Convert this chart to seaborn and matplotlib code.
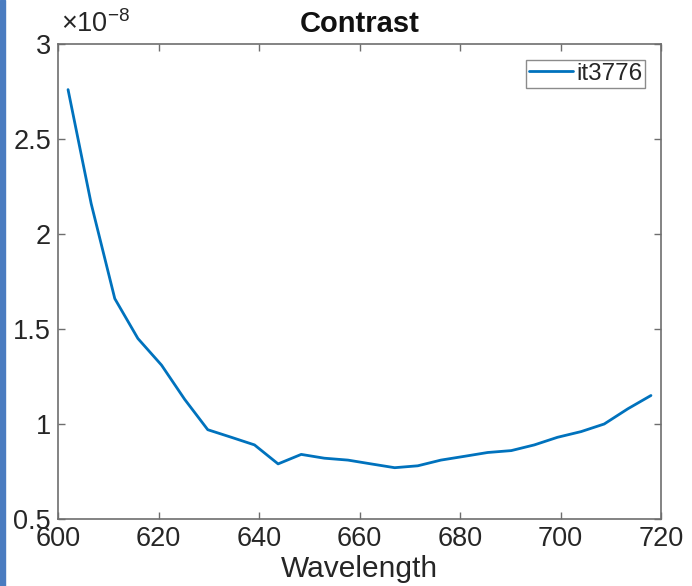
import matplotlib
matplotlib.use("Agg")
import matplotlib.pyplot as plt
import seaborn as sns
import pandas as pd
from matplotlib.patches import Rectangle
from matplotlib.ticker import ScalarFormatter

wavelength = [602.0, 606.6, 611.3, 615.9, 620.6, 625.2, 629.8, 634.5, 639.1,
              643.8, 648.4, 653.0, 657.7, 662.3, 667.0, 671.6, 676.2, 680.9,
              685.5, 690.2, 694.8, 699.4, 704.1, 708.7, 713.4, 718.0]
contrast_e8 = [2.76, 2.16, 1.66, 1.45, 1.31, 1.13, 0.97, 0.93, 0.89,
               0.79, 0.84, 0.82, 0.81, 0.79, 0.77, 0.78, 0.81, 0.83,
               0.85, 0.86, 0.89, 0.93, 0.96, 1.00, 1.08, 1.15]
series_name = "it3776"
x_ticks = [600, 620, 640, 660, 680, 700, 720]
y_ticks = [0.5, 1, 1.5, 2, 2.5, 3]

df = pd.DataFrame({"Wavelength": wavelength,
                   "Contrast": [v * 1e-8 for v in contrast_e8],
                   "series": series_name})

sns.set_style("ticks")
plt.rcParams["font.family"] = ["Liberation Sans", "DejaVu Sans"]
plt.rcParams["mathtext.fontset"] = "custom"
plt.rcParams["mathtext.rm"] = "Liberation Sans"
plt.rcParams["mathtext.it"] = "Liberation Sans"

fig = plt.figure(figsize=(6.92, 5.86), dpi=100)
ax = fig.add_axes([58 / 692, 1 - 519 / 586, 603 / 692, 475 / 586])

sns.lineplot(data=df, x="Wavelength", y="Contrast", hue="series",
             palette=["#0072BD"], linewidth=2.0, ax=ax)

ax.set_xlim(600, 720)
ax.set_ylim(0.5e-8, 3e-8)
ax.set_xticks(x_ticks)
ax.set_yticks([t * 1e-8 for t in y_ticks])
fmt = ScalarFormatter(useMathText=True)
fmt.set_powerlimits((0, 0))
ax.yaxis.set_major_formatter(fmt)
ax.set_yticklabels(["0.5", "1", "1.5", "2", "2.5", "3"])
ax.yaxis.get_offset_text().set_visible(False)

grey = "#6e6e6e"
for s in ax.spines.values():
    s.set_color(grey)
    s.set_linewidth(1.2)
    s.set_visible(True)
ax.tick_params(direction="in", length=5, width=1.0, color=grey,
               labelsize=19.5, labelcolor="#262626", top=True, right=True,
               pad=5)

ax.set_xlabel("Wavelength", fontsize=21.5, color="#262626", labelpad=2)
ax.set_ylabel("")
ax.set_title("Contrast", fontsize=21, fontweight="bold", color="#111111", pad=9)

ax.text(0.005, 1.012, r"$\times10^{-8}$", transform=ax.transAxes,
        fontsize=19.5, color="#262626", ha="left", va="bottom")

leg = ax.legend(loc="upper right", fontsize=17.5, frameon=True, fancybox=False,
                handlelength=1.8, handletextpad=0.15, borderpad=0.12,
                borderaxespad=0.65, labelspacing=0.2)
leg.get_frame().set_edgecolor(grey)
leg.get_frame().set_linewidth(1.0)
for t in leg.get_texts():
    t.set_color("#262626")

fig.patches.append(Rectangle((0, 0), 5 / 692, 1, transform=fig.transFigure,
                             color="#4a7cc0", zorder=10))

fig.savefig("out.png", dpi=100)
